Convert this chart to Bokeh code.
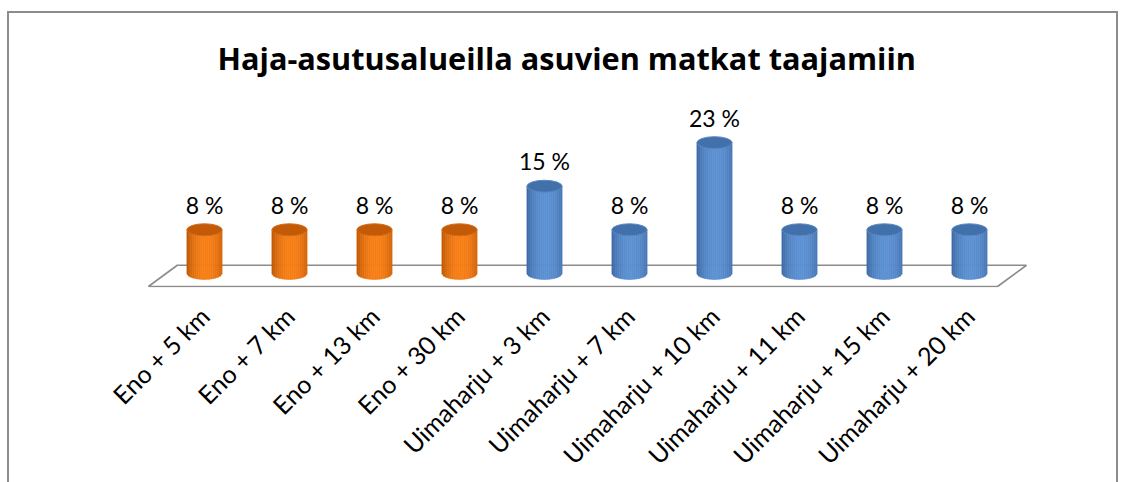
import math
from bokeh.plotting import figure
from bokeh.models import Range1d, FixedTicker
from bokeh.core.properties import value
from bokeh.embed import file_html
from bokeh.resources import INLINE

# ---- data ----
title_text = "Haja-asutusalueilla asuvien matkat taajamiin"
categories = ["Eno + 5 km", "Eno + 7 km", "Eno + 13 km", "Eno + 30 km",
              "Uimaharju + 3 km", "Uimaharju + 7 km", "Uimaharju + 10 km",
              "Uimaharju + 11 km", "Uimaharju + 15 km", "Uimaharju + 20 km"]
values = [7.7, 7.7, 7.7, 7.7, 15.4, 7.7, 23.1, 7.7, 7.7, 7.7]
value_labels = ["%d %%" % round(v) for v in values]

idx = list(range(len(categories)))

# ---- styling helpers ----
def hex2rgb(h):
    h = h.lstrip("#")
    return [int(h[i:i + 2], 16) for i in (0, 2, 4)]

def mix(c1, c2, t):
    a, b = hex2rgb(c1), hex2rgb(c2)
    return "#%02x%02x%02x" % tuple(int(round(a[j] + (b[j] - a[j]) * t)) for j in range(3))

palette = {
    "Eno": dict(dark="#b04e00", light="#f87f16", top="#c25a08", rim="#d46c16"),
    "Uimaharju": dict(dark="#355f98", light="#5c91d3", top="#4270aa", rim="#5b88c2"),
}
groups = [c.split(" ")[0] for c in categories]

PX_PER_UNIT_Y = 5.6
HALF_W = 0.207              # half cylinder width (x data units)
ELL_H_PX = 12               # ellipse height in pixels
B = (ELL_H_PX / 2) / PX_PER_UNIT_Y

p = figure(width=1111, height=471,
           x_range=Range1d(-1, 10), y_range=Range1d(-2.5, 31.79),
           output_backend="svg", toolbar_location=None,
           title=title_text, y_axis_location=None,
           min_border_left=110, min_border_right=66,
           min_border_top=80, min_border_bottom=197)
p.styles = {"border-top": "2px solid #8c8c8c",
            "border-left": "2px solid #8c8c8c",
            "border-right": "2px solid #8c8c8c",
            "margin-top": "11px",
            "margin-left": "7px"}
p.grid.visible = False
p.outline_line_color = None
p.background_fill_color = "white"
p.border_fill_color = "white"

p.title.align = "left"
p.title.offset = 98
p.title.standoff = 30
p.title.text_font = "Open Sans"
p.title.text_font_size = "30.7px"
p.title.text_font_style = "bold"
p.title.text_color = "black"

# floor
n = len(categories)
fx = [-0.66, n - 1 + 0.33, n - 1 + 0.67, -0.32]
fy = [-2.32, -2.32, 1.43, 1.43]
p.patch(fx, fy, fill_color="white", line_color="#8c8c8c", line_width=1.6)

# cylinder bodies as shaded strips
n_strips = 18
xs, ys, cols = [], [], []
for i, v in enumerate(values):
    pal = palette[groups[i]]
    for k in range(n_strips):
        u0 = -1 + 2 * k / n_strips
        u1 = -1 + 2 * (k + 1) / n_strips
        um = 0.5 * (u0 + u1)
        t = 1 - ((um - 0.1) / 1.15) ** 2
        t = max(0.0, min(1.0, t)) ** 0.8
        us = [u1 - (u1 - u0) * j / 4 for j in range(5)]
        xs.append([i + HALF_W * u0, i + HALF_W * u1] + [i + HALF_W * u for u in us])
        ys.append([v, v] + [-B * math.sqrt(max(0.0, 1 - u * u)) for u in us])
        cols.append(mix(pal["dark"], pal["light"], t))
p.patches(xs, ys, fill_color=cols, line_color=cols, line_width=0.6)

# top ellipses
p.ellipse(x=idx, y=values, width=2 * HALF_W, height=ELL_H_PX,
          height_units="screen",
          fill_color=[palette[g]["top"] for g in groups],
          line_color=[palette[g]["rim"] for g in groups], line_width=1)

# value labels
p.text(x=idx, y=values, text=value_labels, text_align="center",
       text_baseline="alphabetic", y_offset=-25,
       text_font=value("Lato"), text_font_size="23px", text_color="black")

# category axis
ax = p.xaxis[0]
ax.ticker = FixedTicker(ticks=idx)
ax.major_label_overrides = {i: c for i, c in zip(idx, categories)}
ax.major_label_orientation = math.pi / 4
ax.axis_line_color = None
ax.major_tick_line_color = None
ax.minor_tick_line_color = None
ax.major_label_text_font = "Lato"
ax.major_label_text_font_size = "25px"
ax.major_label_text_color = "black"
ax.major_label_standoff = 18

open("out.html", "w").write(file_html(p, INLINE))
